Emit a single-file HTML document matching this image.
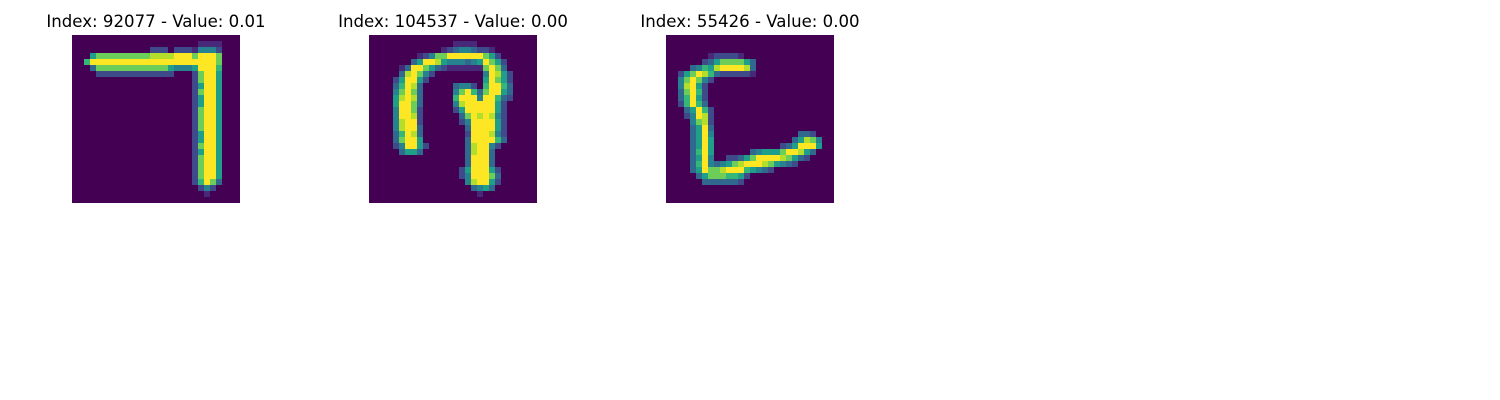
<!DOCTYPE html>
<html><head><meta charset="utf-8"><style>
body{margin:0;background:#fff;width:1500px;height:400px;overflow:hidden}
svg{display:block}
text{font-family:"DejaVu Sans","Liberation Sans",sans-serif;font-size:16.6px;fill:#000}
</style></head><body>
<svg id="fig" width="1500" height="400" viewBox="0 0 1500 400"></svg>
<script>
// Sparse rows: "startCol:digits" segments; digit/9 = pixel intensity
const titles = ["Index: 92077 - Value: 0.01","Index: 104537 - Value: 0.00","Index: 55426 - Value: 0.00"];
const img1 = {1:"21:1111",2:"13:222 17:2221 21:4442",3:"3:5777777777888899979997",4:"2:69999999999999999999997",
5:"3:3777777777777544459996",6:"4:222222222222200027995",7:"20:27995",8:"20:25995",9:"20:27995",10:"20:25995",11:"20:25995",
12:"20:27995",13:"20:27995",14:"20:27995",15:"20:27995",16:"20:25995",17:"20:25995",18:"20:27995",19:"20:25995",20:"20:27995",
21:"20:27995",22:"20:27995",23:"20:27995",24:"20:26973",25:"21:242",26:"22:1"};
const img2 = {1:"14:1111",2:"12:123443221",3:"8:12477999999752",4:"7:3599854443459752",5:"5:139975321111117973",
6:"5:3897420000000049852",7:"4:25995200000000059752",8:"4:36983000003442069963",9:"4:47973000004796379953",
10:"4:58983000006999499632",11:"4:5997300000489999952",12:"4:4997200000259999952",13:"4:4998200000037989842",
14:"4:4899200000024999952",15:"4:4899300000003999952",16:"4:3698300000002999842",17:"4:3799500000003999963",
18:"4:249952000000389942",19:"5:3553000000038993",20:"16:39993",21:"16:39993",22:"15:2599952",23:"15:2499973",
24:"16:489952",25:"17:3453",26:"18:1"};
const img3 = {3:"7:122221",4:"6:235777753",5:"4:34658999983",6:"2:2579863222221",7:"2:479742",8:"2:48952",9:"2:37962",
10:"2:36952",11:"2:26963",12:"3:35962",13:"3:24982",14:"4:4782",15:"4:3593",16:"4:3594 22:332",17:"4:3595 21:35874",
18:"4:3595 19:2359995",19:"4:3695 14:34555799853",20:"4:3594 10:22357999987532",21:"4:369434578999875432",
22:"4:35977899965432",23:"5:357776652",24:"6:3333332"};
const images=[img1,img2,img3];
const origins=[[72,35],[369,35],[666,35]];
const cell=6;
const vir=[[68,1,84],[72,40,120],[62,74,137],[49,104,142],[38,130,142],[31,158,137],[53,183,121],[109,205,89],[180,222,44],[253,231,37]];
function viridis(t){const p=t*9,i=Math.min(8,Math.floor(p)),f=p-i;const a=vir[i],b=vir[i+1];
return `rgb(${a.map((v,k)=>Math.round(v+(b[k]-v)*f)).join(",")})`;}
const svg=document.getElementById('fig');const NS="http://www.w3.org/2000/svg";
images.forEach((img,n)=>{
  const [ox,oy]=origins[n];
  const g=document.createElementNS(NS,'g');
  
  
  svg.appendChild(g);
  const bg=document.createElementNS(NS,'rect');
  bg.setAttribute('x',ox);bg.setAttribute('y',oy);bg.setAttribute('width',28*cell);bg.setAttribute('height',28*cell);
  bg.setAttribute('fill',viridis(0));
  
  
  g.appendChild(bg);
  Object.keys(img).forEach(r=>{
    const row=+r;
    img[r].split(' ').forEach(seg=>{
      const [s,d]=seg.split(':');if(!d)return;const c0=+s;
      [...d].forEach((ch,k)=>{const v=+ch;if(!v)return;
        const rc=document.createElementNS(NS,'rect');
        rc.setAttribute('x',ox+(c0+k)*cell);rc.setAttribute('y',oy+row*cell);
        rc.setAttribute('width',cell);rc.setAttribute('height',cell);
        rc.setAttribute('fill',viridis(v/9));
        
        
        g.appendChild(rc);});
    });
  });
  const t=document.createElementNS(NS,'text');
  t.setAttribute('x',ox+84);t.setAttribute('y',27);t.setAttribute('text-anchor','middle');
  t.textContent=titles[n];
  
  
  svg.appendChild(t);
});
</script>
</body></html>
